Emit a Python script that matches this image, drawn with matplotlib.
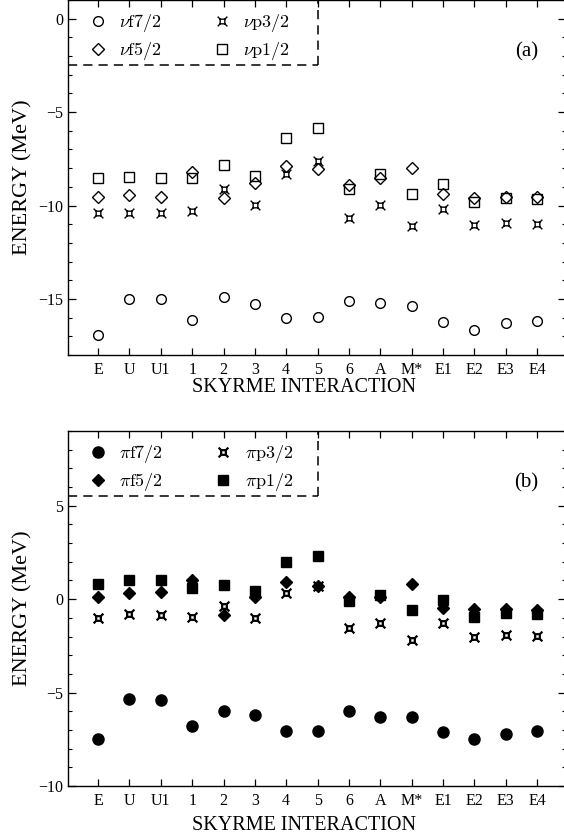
import matplotlib
matplotlib.use("Agg")
import matplotlib.pyplot as plt
from matplotlib.path import Path
import numpy as np

plt.rcParams['font.family'] = ['Liberation Serif', 'DejaVu Serif']
plt.rcParams['mathtext.fontset'] = 'cm'

interactions = ["E", "U", "U1", "1", "2", "3", "4", "5", "6", "A", "M*", "E1", "E2", "E3", "E4"]

# Neutron single-particle energies (MeV)
nu_f72 = [-16.93, -15.01, -15.01, -16.13, -14.87, -15.28, -16.04, -15.99, -15.10, -15.22, -15.37, -16.22, -16.65, -16.31, -16.17]
nu_f52 = [-9.53, -9.44, -9.53, -8.19, -9.62, -8.81, -7.89, -8.03, -8.92, -8.51, -8.01, -9.40, -9.58, -9.53, -9.53]
nu_p32 = [-10.38, -10.38, -10.38, -10.29, -9.10, -9.97, -8.30, -7.62, -10.65, -9.97, -11.09, -10.20, -11.04, -10.91, -10.97]
nu_p12 = [-8.50, -8.46, -8.50, -8.55, -7.85, -8.42, -6.41, -5.84, -9.13, -8.33, -9.36, -8.83, -9.81, -9.62, -9.64]

# Proton single-particle energies (MeV)
pi_f72 = [-7.47, -5.37, -5.42, -6.78, -5.96, -6.22, -7.06, -7.06, -6.01, -6.29, -6.33, -7.11, -7.47, -7.20, -7.06]
pi_f52 = [0.12, 0.31, 0.38, 1.04, -0.83, 0.10, 0.92, 0.72, 0.12, 0.10, 0.83, -0.47, -0.52, -0.52, -0.56]
pi_p32 = [-1.01, -0.79, -0.83, -0.97, -0.38, -1.01, 0.33, 0.72, -1.54, -1.27, -2.16, -1.27, -2.02, -1.90, -1.95]
pi_p12 = [0.81, 1.01, 1.04, 0.60, 0.76, 0.42, 2.00, 2.32, -0.12, 0.24, -0.56, -0.03, -0.95, -0.74, -0.79]

# custom "square with diagonal spikes" marker
s = 0.48
verts = [(-s, -s), (s, -s), (s, s), (-s, s), (-s, -s),
         (s, s), (1, 1), (-s, s), (-1, 1), (-s, -s), (-1, -1), (s, -s), (1, -1)]
codes = [Path.MOVETO, Path.LINETO, Path.LINETO, Path.LINETO, Path.CLOSEPOLY,
         Path.MOVETO, Path.LINETO, Path.MOVETO, Path.LINETO, Path.MOVETO, Path.LINETO, Path.MOVETO, Path.LINETO]
spike = Path(verts, codes)

W, H = 564, 839
fig = plt.figure(figsize=(W / 100, H / 100), dpi=100)

x = np.arange(len(interactions))

def make_axes(top_px, bottom_px):
    return fig.add_axes([68 / W, 1 - bottom_px / H, (W - 68) / W + 0.004, (bottom_px - top_px) / H])

def style(ax, ylim, yticks, box_y, panel, xlabelpad):
    ax.set_xlim(-0.96, 14.93)
    ax.set_ylim(*ylim)
    ax.set_xticks(x)
    ax.set_xticklabels(interactions, fontsize=11.5)
    ax.set_yticks(yticks)
    ax.set_yticklabels([("\u2212" + str(abs(t))) if t < 0 else str(t) for t in yticks], fontsize=11.5)
    ax.set_yticks(np.arange(ylim[0], ylim[1] + 0.01, 1), minor=True)
    ax.tick_params(direction='in', top=True, right=True, which='both')
    ax.tick_params(which='major', length=6, width=0.9)
    ax.tick_params(which='minor', length=3, width=0.8)
    ax.tick_params(axis='x', which='major', length=5, pad=5)
    for sp in ax.spines.values():
        sp.set_linewidth(1.0)
    ax.set_xlabel("SKYRME INTERACTION", fontsize=14.5, labelpad=xlabelpad)
    ax.xaxis.label.set_x(0.474)
    ax.set_ylabel("ENERGY (MeV)", fontsize=16, labelpad=4)
    # dashed legend box
    ax.plot([-0.96, 7.0], [box_y, box_y], ls=(0, (6, 4)), color='black', lw=1.1, clip_on=False)
    ax.plot([7.0, 7.0], [box_y, ylim[1]], ls=(0, (6, 4)), color='black', lw=1.1, clip_on=False)
    ax.text(0.944, 0.855, panel, transform=ax.transAxes, fontsize=15, ha='right', va='center')
    ax.legend(loc='upper left', bbox_to_anchor=(0.011, 0.997), ncol=2, frameon=False,
              fontsize=13, handletextpad=0.42, columnspacing=2.6, labelspacing=0.33,
              borderaxespad=0.2, handlelength=1.5)

# ---- panel (a) ----
ax1 = make_axes(0, 355)
ax1.plot(x, nu_f72, ls='none', marker='o', mfc='none', mec='black', ms=7, mew=1.0, label=r'$\nu\mathrm{f}7/2$')
ax1.plot(x, nu_f52, ls='none', marker='D', mfc='none', mec='black', ms=6, mew=1.0, label=r'$\nu\mathrm{f}5/2$')
ax1.plot(x, nu_p32, ls='none', marker=spike, mfc='none', mec='black', ms=7, mew=1.0, label=r'$\nu\mathrm{p}3/2$')
ax1.plot(x, nu_p12, ls='none', marker='s', mfc='none', mec='black', ms=7, mew=1.0, label=r'$\nu\mathrm{p}1/2$')
style(ax1, (-18, 1), [-15, -10, -5, 0], -2.5, "(a)", 0)

# ---- panel (b) ----
ax2 = make_axes(431, 786)
ax2.plot(x, pi_f72, ls='none', marker='o', mfc='black', mec='black', ms=8, label=r'$\pi\mathrm{f}7/2$')
ax2.plot(x, pi_f52, ls='none', marker='D', mfc='black', mec='black', ms=6.5, label=r'$\pi\mathrm{f}5/2$')
ax2.plot(x, pi_p32, ls='none', marker=spike, mfc='none', mec='black', ms=7, mew=1.6, label=r'$\pi\mathrm{p}3/2$')
ax2.plot(x, pi_p12, ls='none', marker='s', mfc='black', mec='black', ms=7, label=r'$\pi\mathrm{p}1/2$')
style(ax2, (-10, 9), [-10, -5, 0, 5], 5.5, "(b)", 5)

fig.savefig("out.png", dpi=100)
